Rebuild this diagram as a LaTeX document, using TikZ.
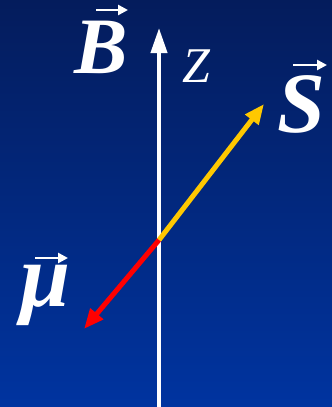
\documentclass[tikz,border=0pt]{standalone}
\usepackage{fontspec}
\setmainfont{Liberation Serif}
\usetikzlibrary{arrows.meta}
\definecolor{bgtop}{RGB}{4,28,92}
\definecolor{bgbot}{RGB}{0,52,160}
\definecolor{spinyellow}{RGB}{255,200,0}
\definecolor{mured}{RGB}{255,0,0}
\tikzset{
  lbl/.style={text=white, inner sep=0pt, anchor=base west},
  vecbar/.style={white, line width=2.6pt, -{Triangle[length=10pt,width=10pt]}},
}
\begin{document}
\begin{tikzpicture}[x=1pt,y=-1pt]
\shade[top color=bgtop, bottom color=bgbot] (0,0) rectangle (332,407);
\useasboundingbox (0,0) rectangle (332,407);
\coordinate (zbot) at (159,407);
\coordinate (ztop) at (159,28);
\coordinate (O) at (159,240);
\coordinate (stip) at (264,104);
\coordinate (mtip) at (84,329);
\draw[white, line width=4pt, -{Triangle[length=25pt,width=16pt]}] (zbot) -- (ztop);
\draw[spinyellow, line width=5pt, -{Triangle[length=20pt,width=16pt]}] (O) -- (stip);
\draw[mured, line width=5pt, -{Triangle[length=20pt,width=16pt]}] (O) -- (mtip);
\node[lbl, font=\fontsize{80}{80}\selectfont\bfseries\itshape] (B) at (74,73) {B};
\node[lbl, font=\fontsize{50}{50}\selectfont\itshape] (Z) at (182,82) {Z};
\node[lbl, font=\fontsize{86}{86}\selectfont\bfseries\itshape] (S) at (277,132) {S};
\node[lbl, font=\fontsize{90}{90}\selectfont\bfseries\itshape] (mu) at (20,306) {μ};
\coordinate (ba) at (96,10); \coordinate (bb) at (128,10);
\coordinate (sa) at (293,65); \coordinate (sb) at (327,65);
\coordinate (ma) at (35,258); \coordinate (mb) at (68,258);
\draw[vecbar] (ba) -- (bb);
\draw[vecbar] (sa) -- (sb);
\draw[vecbar] (ma) -- (mb);
\end{tikzpicture}
\end{document}
